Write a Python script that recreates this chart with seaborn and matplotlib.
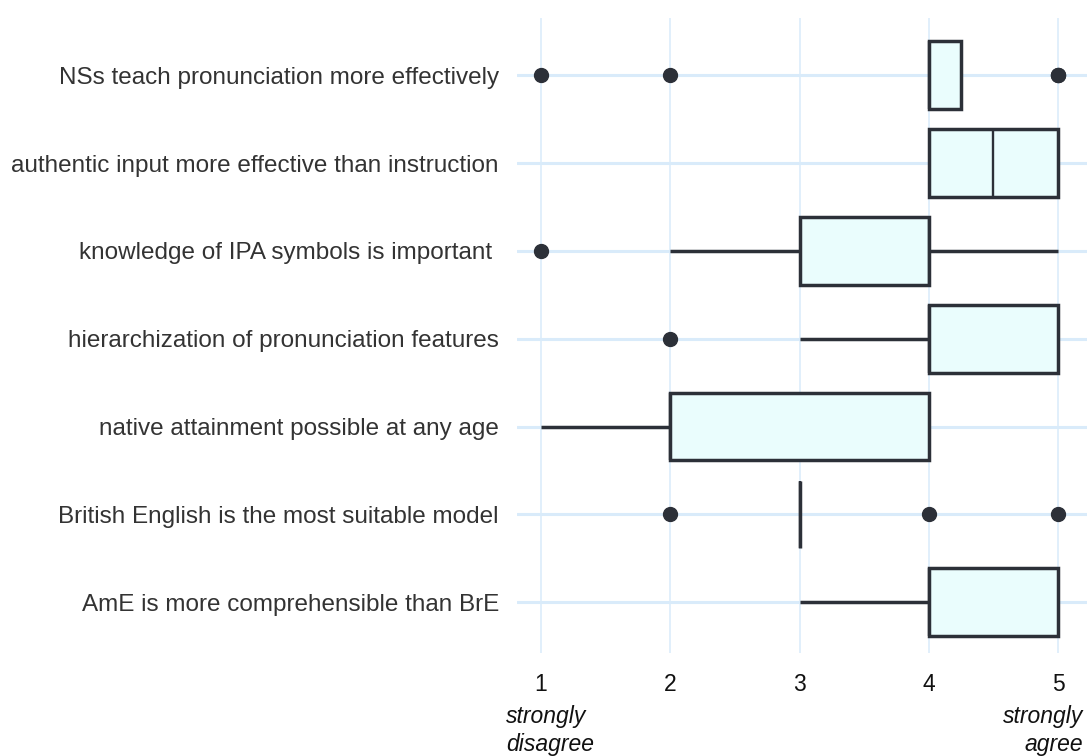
import matplotlib
matplotlib.use("Agg")
import matplotlib.pyplot as plt
import seaborn as sns
import pandas as pd

# Questions, top to bottom
questions = [
    "NSs teach pronunciation more effectively",
    "authentic input more effective than instruction",
    "knowledge of IPA symbols is important ",
    "hierarchization of pronunciation features",
    "native attainment possible at any age",
    "British English is the most suitable model",
    "AmE is more comprehensible than BrE",
]

# Likert responses (1 = strongly disagree ... 5 = strongly agree)
resp_ns_teach = [1, 2, 4, 4, 4, 4, 4, 4, 4, 5, 5, 5]
resp_authentic = [4, 4, 4, 4, 4, 4, 5, 5, 5, 5, 5, 5]
resp_ipa = [1, 2, 3, 3, 3, 4, 4, 4, 4, 4, 4, 5]
resp_hierarch = [2, 3, 4, 4, 4, 4, 4, 5, 5, 5, 5, 5]
resp_native = [1, 2, 2, 2, 2, 2, 2, 3, 4, 4, 4, 4]
resp_brit = [2, 3, 3, 3, 3, 3, 3, 3, 3, 3, 4, 5]
resp_ame = [3, 4, 4, 4, 4, 4, 4, 5, 5, 5, 5, 5]

responses = [resp_ns_teach, resp_authentic, resp_ipa, resp_hierarch,
             resp_native, resp_brit, resp_ame]

xticks = [1, 2, 3, 4, 5]
xtick_labels = ["1", "2", "3", "4", "5"]
left_note = "strongly\ndisagree"
right_note = "strongly\nagree"

rows = []
for q, r in zip(questions, responses):
    for v in r:
        rows.append({"question": q, "response": v})
df = pd.DataFrame(rows)

sns.set_theme(style="white")
plt.rcParams["font.family"] = ["Liberation Sans", "DejaVu Sans"]

edge = "#2c3038"
fill = "#eafdfd"
gridc = "#d9ebfa"

fig = plt.figure(figsize=(10.87, 7.56), dpi=100)
ax = fig.add_axes([0.4756, 0.136, 1 - 0.4756, 0.976 - 0.136])

ax.set_axisbelow(True)
for yv in range(len(questions)):
    ax.axhline(yv, color=gridc, lw=2.2, zorder=0)
for xv in xticks:
    ax.axvline(xv, color=gridc, lw=1.1, zorder=0)

sns.boxplot(
    data=df, x="response", y="question", order=questions, orient="h",
    color=fill, linecolor=edge, saturation=1, width=0.77, linewidth=2.5,
    showcaps=False, ax=ax,
    medianprops=dict(color=edge, linewidth=1.7),
    flierprops=dict(marker="o", markerfacecolor=edge, markeredgecolor=edge,
                    markersize=10),
)

ax.set_xlim(0.814, 5.224)
ax.set_ylim(6.58, -0.65)
ax.set_xticks(xticks)
ax.set_xticklabels(xtick_labels)
ax.set_xlabel("")
ax.set_ylabel("")
for s in ax.spines.values():
    s.set_visible(False)
ax.tick_params(axis="y", length=0, pad=13, labelsize=17.5, labelcolor="#333333")
ax.tick_params(axis="x", length=0, pad=14, labelsize=16.5, labelcolor="#111111")
ax.grid(False)

ax.annotate(left_note, xy=(xticks[0], 0), xycoords=ax.get_xaxis_transform(),
            xytext=(-25, -37), textcoords="offset points", ha="left", va="top",
            fontsize=16.5, style="italic", color="#111111", linespacing=1.3)
ax.annotate(right_note, xy=(xticks[-1], 0), xycoords=ax.get_xaxis_transform(),
            xytext=(18, -37), textcoords="offset points", ha="right", va="top",
            fontsize=16.5, style="italic", color="#111111", linespacing=1.3,
            multialignment="right")

fig.savefig("out.png", dpi=100)
